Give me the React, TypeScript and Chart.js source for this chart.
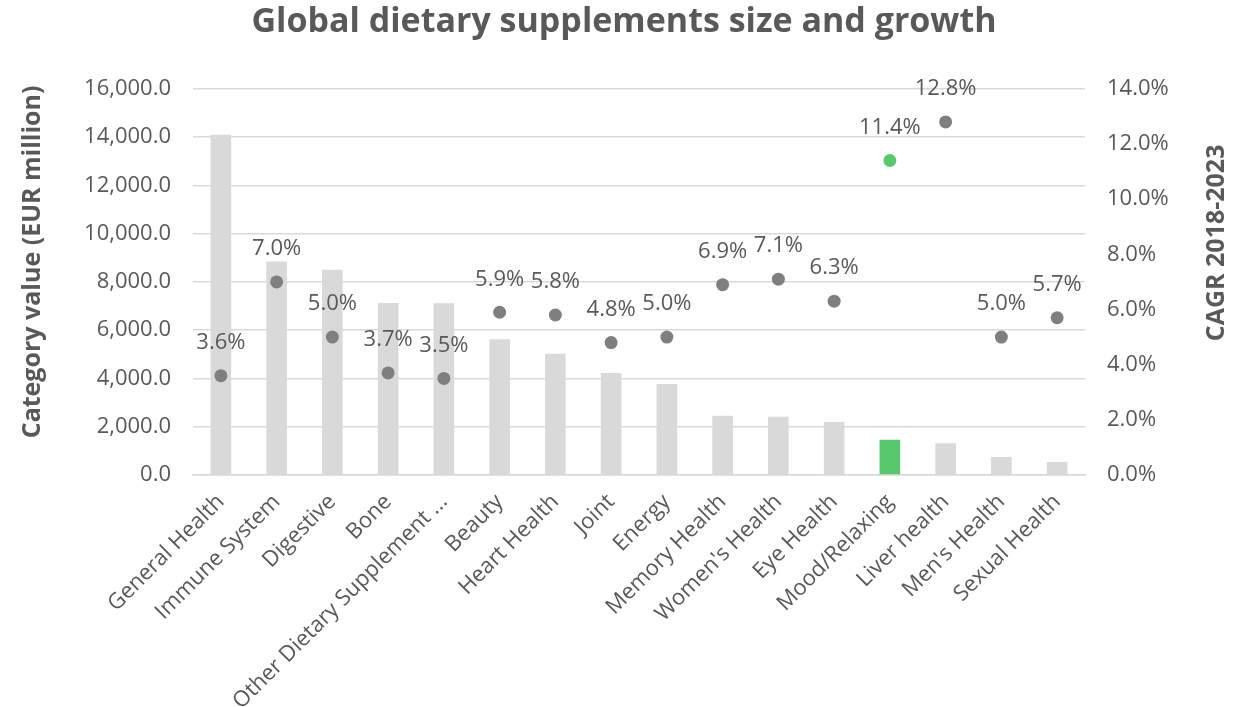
import React, { useEffect, useRef } from "react";
import { Chart, registerables } from "chart.js";

Chart.register(...registerables);

const categories = [
  "General Health",
  "Immune System",
  "Digestive",
  "Bone",
  "Other Dietary Supplement ...",
  "Beauty",
  "Heart Health",
  "Joint",
  "Energy",
  "Memory Health",
  "Women's Health",
  "Eye Health",
  "Mood/Relaxing",
  "Liver health",
  "Men's Health",
  "Sexual Health",
];

const categoryValues = [
  14100, 8850, 8500, 7130, 7120, 5620, 5020, 4230, 3770, 2450, 2410, 2200, 1460, 1320, 750, 540,
];

const cagrValues = [3.6, 7.0, 5.0, 3.7, 3.5, 5.9, 5.8, 4.8, 5.0, 6.9, 7.1, 6.3, 11.4, 12.8, 5.0, 5.7];

const highlightIndex = 12;

const TEXT = "#595959";
const BAR = "#d9d9d9";
const GREEN = "#58c86c";
const POINT = "#7f7f7f";
const FONT = "'Open Sans', sans-serif";

export default function App() {
  const ref = useRef<HTMLCanvasElement | null>(null);

  useEffect(() => {
    document.body.style.margin = "0";
    const canvas = ref.current;
    if (!canvas) return;

    const labelPlugin = {
      id: "pointLabels",
      afterDatasetsDraw(chart: any) {
        const ctx = chart.ctx;
        const meta = chart.getDatasetMeta(1);
        ctx.save();
        ctx.font = `22px ${FONT}`;
        ctx.fillStyle = TEXT;
        ctx.textAlign = "center";
        ctx.textBaseline = "middle";
        meta.data.forEach((pt: any, i: number) => {
          ctx.fillText(cagrValues[i].toFixed(1) + "%", pt.x, pt.y - 33);
        });
        // axis titles
        const area = chart.chartArea;
        const yl = chart.scales.y;
        const yr = chart.scales.y1;
        ctx.font = `bold 25px ${FONT}`;
        ctx.fillStyle = TEXT;
        ctx.save();
        ctx.translate(yl.left + 33, (area.top + area.bottom) / 2 - 20);
        ctx.rotate(-Math.PI / 2);
        ctx.fillText("Category value (EUR million)", 0, 0);
        ctx.restore();
        ctx.save();
        ctx.translate(yr.right - 31, (area.top + area.bottom) / 2 - 39);
        ctx.rotate(-Math.PI / 2);
        ctx.fillText("CAGR 2018-2023", 0, 0);
        ctx.restore();
        ctx.restore();
      },
    };

    const chart = new Chart(canvas, {
      type: "bar",
      data: {
        labels: categories,
        datasets: [
          {
            type: "bar",
            label: "Category value",
            data: categoryValues,
            backgroundColor: categoryValues.map((_, i) => (i === highlightIndex ? GREEN : BAR)),
            yAxisID: "y",
            categoryPercentage: 1,
            barPercentage: 0.37,
            order: 2,
          },
          {
            type: "line",
            label: "CAGR 2018-2023",
            data: cagrValues,
            showLine: false,
            yAxisID: "y1",
            pointRadius: 6.5,
            pointHoverRadius: 6.5,
            pointBorderWidth: 0,
            pointBackgroundColor: cagrValues.map((_, i) => (i === highlightIndex ? GREEN : POINT)),
            pointBorderColor: cagrValues.map((_, i) => (i === highlightIndex ? GREEN : POINT)),
            order: 1,
          },
        ],
      },
      options: {
        animation: false,
        responsive: false,
        maintainAspectRatio: false,
        layout: { padding: 0 },
        plugins: {
          legend: { display: false },
          tooltip: { enabled: false },
          title: {
            display: true,
            text: "Global dietary supplements size and growth",
            color: TEXT,
            font: { family: FONT, size: 34, weight: "bold" },
            padding: { top: 2, bottom: 46 },
          },
        },
        scales: {
          x: {
            grid: { display: false, drawTicks: false },
            border: { display: true, color: BAR, width: 1.5 },
            ticks: {
              color: TEXT,
              font: { family: FONT, size: 22 },
              minRotation: 45,
              maxRotation: 45,
              autoSkip: false,
              padding: 14,
            },
            afterFit(scale: any) {
              scale.height = 232;
            },
          },
          y: {
            position: "left",
            min: 0,
            max: 16000,
            grid: { color: BAR, lineWidth: 1.5, drawTicks: false },
            border: { display: false },
            ticks: {
              stepSize: 2000,
              color: TEXT,
              font: { family: FONT, size: 22 },
              padding: 22,
              callback: (v: any) =>
                Number(v).toLocaleString("en-US", { minimumFractionDigits: 1, maximumFractionDigits: 1 }),
            },
            afterFit(scale: any) {
              scale.width = 193;
            },
          },
          y1: {
            position: "right",
            min: 0,
            max: 14,
            grid: { display: false, drawTicks: false },
            border: { display: false },
            ticks: {
              stepSize: 2,
              color: TEXT,
              font: { family: FONT, size: 22 },
              padding: 22,
              callback: (v: any) => Number(v).toFixed(1) + "%",
            },
            afterFit(scale: any) {
              scale.width = 163;
            },
          },
        },
      },
      plugins: [labelPlugin],
    });

    return () => chart.destroy();
  }, []);

  return <canvas ref={ref} width={1248} height={707} style={{ display: "block" }} />;
}
